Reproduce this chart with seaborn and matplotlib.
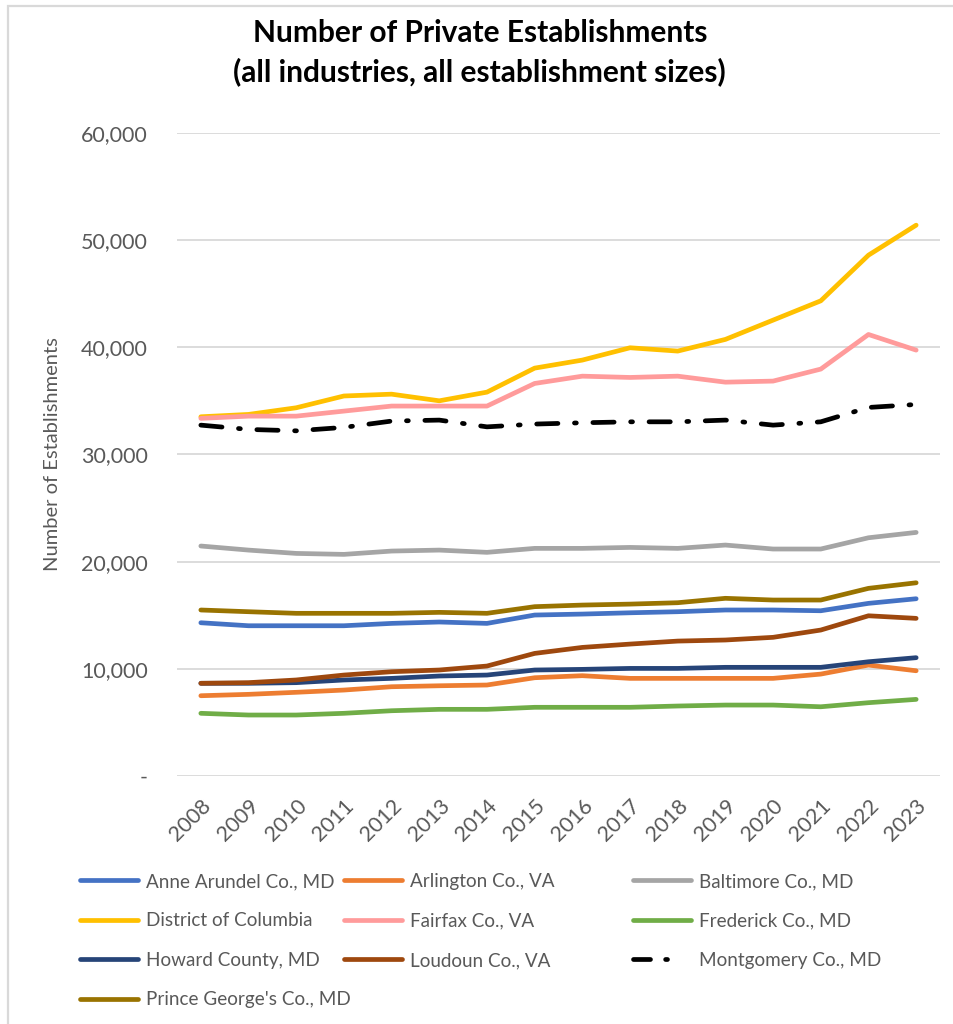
import matplotlib
matplotlib.use("Agg")
import matplotlib.pyplot as plt
import pandas as pd
import seaborn as sns
from matplotlib.lines import Line2D
from matplotlib.patches import Rectangle
from matplotlib.ticker import FuncFormatter, MultipleLocator

# ---- data -------------------------------------------------------------
years = list(range(2008, 2024))

anne_arundel = [14300, 14020, 14020, 14020, 14240, 14370, 14240, 15020,
                15110, 15230, 15330, 15490, 15490, 15420, 16110, 16540]
arlington = [7490, 7620, 7810, 8020, 8330, 8420, 8490, 9170,
             9360, 9110, 9110, 9110, 9110, 9510, 10350, 9820]
baltimore = [21460, 21080, 20770, 20680, 20990, 21080, 20870, 21240,
             21240, 21330, 21240, 21550, 21180, 21180, 22230, 22730]
district_of_columbia = [33520, 33740, 34360, 35460, 35630, 35010, 35820, 38060,
                        38810, 39960, 39650, 40740, 42540, 44340, 48600, 51400]
fairfax = [33370, 33580, 33580, 34050, 34520, 34520, 34520, 36630,
           37310, 37190, 37310, 36750, 36850, 37970, 41200, 39740]
frederick = [5850, 5690, 5690, 5850, 6090, 6220, 6220, 6410,
             6410, 6410, 6530, 6620, 6620, 6460, 6840, 7150]
howard = [8650, 8650, 8710, 8960, 9110, 9330, 9420, 9890,
          9950, 10040, 10040, 10140, 10140, 10140, 10660, 11040]
loudoun = [8650, 8710, 8960, 9420, 9730, 9890, 10260, 11440,
           12000, 12310, 12590, 12690, 12940, 13620, 14950, 14710]
montgomery = [32740, 32340, 32210, 32530, 33120, 33210, 32580, 32840,
              32960, 33050, 33050, 33210, 32740, 33050, 34390, 34670]
prince_georges = [15490, 15330, 15180, 15180, 15180, 15270, 15180, 15800,
                  15950, 16040, 16170, 16580, 16420, 16420, 17510, 18030]

county_names = [
    "Anne Arundel Co., MD", "Arlington Co., VA", "Baltimore Co., MD",
    "District of Columbia", "Fairfax Co., VA", "Frederick Co., MD",
    "Howard County, MD", "Loudoun Co., VA", "Montgomery Co., MD",
    "Prince George's Co., MD",
]
county_values = [anne_arundel, arlington, baltimore, district_of_columbia,
                 fairfax, frederick, howard, loudoun, montgomery, prince_georges]
county_colors = ["#4472C4", "#ED7D31", "#A5A5A5", "#FFC000", "#FF9B9B",
                 "#70AD47", "#264478", "#9E480E", "#000000", "#997300"]

y_ticks = [0, 10000, 20000, 30000, 40000, 50000, 60000]

title_text = "Number of Private Establishments\n(all industries, all establishment sizes)"
y_label = "Number of Establishments"

# ---- long-form table ----------------------------------------------------
rows = []
for name, vals in zip(county_names, county_values):
    for yr, v in zip(years, vals):
        rows.append({"Year": yr, "County": name, "Establishments": v})
df = pd.DataFrame(rows)

palette = dict(zip(county_names, county_colors))
dash_dot = (4.5, 3.5, 0.4, 3.5)
dashes = {n: (dash_dot if n == "Montgomery Co., MD" else "") for n in county_names}

# ---- style --------------------------------------------------------------
sns.set_theme(style="white")
plt.rcParams["font.family"] = ["Lato", "DejaVu Sans"]

GRAY_TEXT = "#595959"
LW = 3.4

fig = plt.figure(figsize=(9.54, 10.24), dpi=100)
ax = fig.add_axes([177 / 954, 1 - 776 / 1024, (940 - 177) / 954, (776 - 133) / 1024])

sns.lineplot(data=df, x="Year", y="Establishments", hue="County",
             hue_order=county_names, palette=palette,
             style="County", style_order=county_names, dashes=dashes,
             linewidth=LW, legend=False, ax=ax,
             solid_capstyle="round", dash_capstyle="round",
             solid_joinstyle="round", dash_joinstyle="round")

ax.set_xlim(years[0] - 0.5, years[-1] + 0.5)
ax.set_ylim(y_ticks[0], y_ticks[-1])
ax.set_xticks(years)
ax.set_xticklabels([str(y) for y in years])
ax.yaxis.set_major_locator(MultipleLocator(10000))
ax.yaxis.set_major_formatter(FuncFormatter(lambda v, p: "-" if v == 0 else f"{int(v):,}"))

ax.grid(axis="y", color="#D9D9D9", linewidth=1.3)
ax.grid(axis="x", visible=False)
ax.set_axisbelow(True)
for s in ax.spines.values():
    s.set_visible(False)

ax.tick_params(axis="y", length=0, pad=21, labelsize=15.5, labelcolor=GRAY_TEXT)
ax.tick_params(axis="x", length=0, pad=14, labelsize=15.5, labelcolor=GRAY_TEXT)
for lbl in ax.get_xticklabels():
    lbl.set_rotation(45)
    lbl.set_ha("right")
    lbl.set_va("top")
    lbl.set_rotation_mode("anchor")

ax.set_xlabel("")
ax.set_ylabel(y_label, fontsize=14.5, color=GRAY_TEXT)
ax.yaxis.set_label_coords(-0.152, 0.5)

fig.text(0.503, 1 - 53 / 1024, title_text, ha="center", va="center",
         fontsize=21.5, fontweight="bold", color="black", linespacing=1.42)

# ---- legend (three columns) ---------------------------------------------
handles = []
for ln in ax.lines[:len(county_names)]:
    h = Line2D([0], [0], color=ln.get_color(), linewidth=LW,
               solid_capstyle="round", dash_capstyle="round")
    if ln.get_linestyle() not in ("-", "solid"):
        # one dash and one dot in the short legend sample
        h.set_dashes((3.6, 3.2, 0.4, 12))
    handles.append(h)

columns = [[0, 3, 6, 9], [1, 4, 7], [2, 5, 8]]
col_x = [80, 344, 633]
for idxs, cx in zip(columns, col_x):
    fig.legend([handles[i] for i in idxs], [county_names[i] for i in idxs],
               loc="upper left", bbox_to_anchor=(cx / 954, 1 - 873 / 1024),
               frameon=False, fontsize=13.6, labelcolor=GRAY_TEXT,
               handlelength=3.07, handletextpad=0.42, labelspacing=1.19,
               borderpad=0, borderaxespad=0)

# light chart-area frame
fig.add_artist(Rectangle((8 / 954, -0.05), 1.2, 1 - 6 / 1024 + 0.05,
                         transform=fig.transFigure, fill=False,
                         edgecolor="#D9D9D9", linewidth=1.6, clip_on=False))

fig.savefig("out.png", dpi=100)
